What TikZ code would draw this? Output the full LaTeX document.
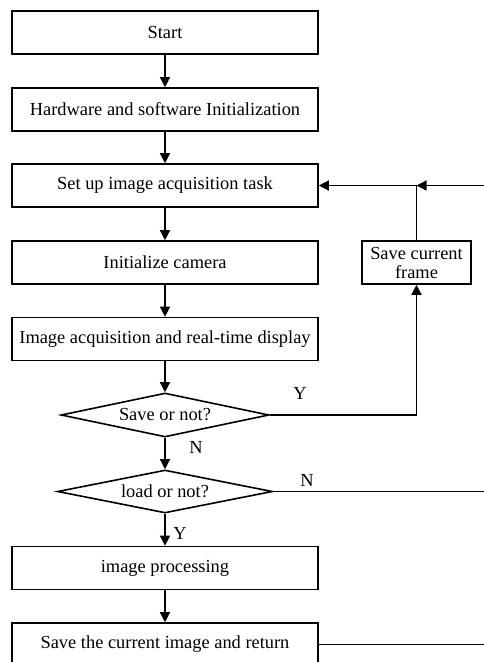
\documentclass[tikz,border=0pt]{standalone}
\usepackage{fontspec}
\setmainfont{Liberation Serif}
\usetikzlibrary{shapes.geometric, arrows.meta}
\tikzset{
  stepbox/.style={draw, line width=1.6pt, minimum width=306pt, minimum height=43pt, inner sep=0pt, font=\fontsize{18.4}{20}\selectfont},
  choice/.style={draw, diamond, aspect=4.7, line width=1.6pt, inner sep=0pt, font=\fontsize{18.4}{20}\selectfont},
  lbl/.style={font=\fontsize{18.4}{20}\selectfont},
  arr/.style={line width=1.3pt, -{Triangle[length=10pt, width=10pt]}},
  ln/.style={line width=1.3pt}
}
\begin{document}
\begin{tikzpicture}[x=1pt, y=-1pt]
  \useasboundingbox (0, 0) rectangle (484, 662);
  \node [stepbox] (start) at (165, 32.5) {Start};
  \node [stepbox] (init) at (165, 109.5) {Hardware and software Initialization};
  \node [stepbox] (task) at (165, 185.5) {Set up image acquisition task};
  \node [stepbox] (camera) at (165, 262.5) {Initialize camera};
  \node [stepbox] (acquire) at (165, 339) {Image acquisition and real-time display};
  \node [choice, minimum width=208pt, minimum height=44pt] (save) at (165, 415) {Save or not?};
  \node [choice, minimum width=215pt, minimum height=43pt] (load) at (165, 491.5) {load or not?};
  \node [stepbox] (process) at (165, 568) {image processing};
  \node [stepbox] (return) at (165, 644.5) {Save the current image and return};
  \node [stepbox, minimum width=109pt, align=center, font=\fontsize{18.4}{19}\selectfont] (frame) at (416.5, 262.5) {Save current\\frame};
  \coordinate (loop) at (486, 185.5);

  \draw [arr] (start) -- (init);
  \draw [arr] (init) -- (task);
  \draw [arr] (task) -- (camera);
  \draw [arr] (camera) -- (acquire);
  \draw [arr] (acquire) -- (save);
  \draw [arr] (save) -- (load);
  \draw [arr] (load) -- (process);
  \draw [arr] (process) -- (return);
  \draw [arr] (save.east) -| (frame.south);
  \draw [arr] (frame.north) |- (task.east);
  \draw [arr] (return.east) -| (loop) -- (frame.north |- loop);
  \draw [ln] (load.east) -- (load.east -| loop);

  \node [lbl] (saveY) at (300, 393) {Y};
  \node [lbl] (saveN) at (196, 447) {N};
  \node [lbl] (loadN) at (307, 480) {N};
  \node [lbl] (loadY) at (180, 533) {Y};
\end{tikzpicture}
\end{document}
